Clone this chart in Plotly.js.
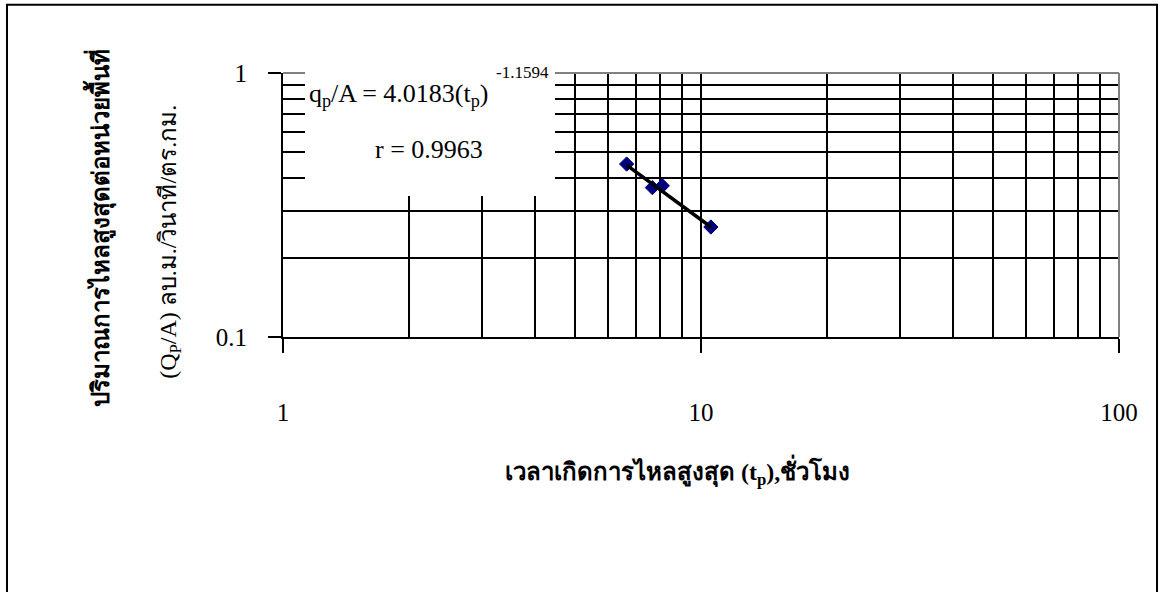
<!DOCTYPE html>
<html>
<head>
<meta charset="utf-8">
<script src="https://cdn.plot.ly/plotly-3.0.1.min.js"></script>
<style>
  html, body { margin: 0; padding: 0; background: #fff; }
  #chart { width: 1159px; height: 592px; }
</style>
</head>
<body>
<div id="chart"></div>
<script>
const tpHours = [6.64, 7.65, 8.08, 10.56];
const qpPerArea = [0.452, 0.368, 0.374, 0.261];

// Power-law trend line end points (straight on log-log axes)
const trendX = [6.64, 10.56];
const trendY = [0.448, 0.261];

// Axis ticks / grid
const xMajor = [1, 10, 100];
const xMinor = [2, 3, 4, 5, 6, 7, 8, 9, 20, 30, 40, 50, 60, 70, 80, 90];
const yMajor = [0.1, 1];
const yMinor = [0.2, 0.3, 0.4, 0.5, 0.6, 0.7, 0.8, 0.9];

const eqText = "q<sub>p</sub>/A = 4.0183(t<sub>p</sub>)";
const eqExponent = "-1.1594";
const rText = "r = 0.9963";
const xTitle = "<b>เวลาเกิดการไหลสูงสุด (t<sub>p</sub>),ชั่วโมง</b>";
const yTitle1 = "<b>ปริมาณการไหลสูงสุดต่อหน่วยพื้นที่</b>";
const yTitle2 = "(Q<sub>P</sub>/A) ลบ.ม./วินาที/ตร.กม.";

// plot area in pixels
const PL = 283, PR = 1119, PT = 72.5, PB = 337.5;
const px = x => (x - PL) / (PR - PL);
const py = y => (PB - y) / (PB - PT);

const SERIF = "Liberation Serif, Times New Roman, serif";

const traces = [
  {
    type: "scatter", mode: "markers", x: tpHours, y: qpPerArea,
    marker: { symbol: "diamond", size: 11, color: "#000080", line: { color: "#000080", width: 1 } },
    hoverinfo: "x+y",
  },
  {
    type: "scatter", mode: "lines", x: trendX, y: trendY,
    line: { color: "#000000", width: 3.5 },
    hoverinfo: "skip",
  },
];

const axisBase = {
  type: "log",
  showline: true, linecolor: "#000", linewidth: 2,
  ticks: "outside", tickcolor: "#000", tickwidth: 2,
  showgrid: true, gridcolor: "#000", gridwidth: 2,
  zeroline: false,
  tickfont: { family: SERIF, size: 25, color: "#000" },
  tickmode: "array",
};

const layout = {
  width: 1159, height: 592,
  margin: { l: PL, r: 1159 - PR, t: PT, b: 592 - PB },
  paper_bgcolor: "#fff", plot_bgcolor: "#fff",
  showlegend: false,
  xaxis: {
    ...axisBase,
    range: [0, 2],
    tickvals: xMajor, ticktext: xMajor.map(String),
    ticklen: 14, ticklabelstandoff: 38,
    minor: { tickmode: "array", tickvals: xMinor, showgrid: true, gridcolor: "#000", gridwidth: 2, ticks: "" },
  },
  yaxis: {
    ...axisBase,
    range: [-1, 0],
    tickvals: yMajor, ticktext: yMajor.map(String),
    ticklen: 13, ticklabelstandoff: 16,
    minor: { tickmode: "array", tickvals: yMinor, showgrid: true, gridcolor: "#000", gridwidth: 2, ticks: "" },
  },
  shapes: [
    // grey top and right plot border
    { type: "line", xref: "paper", yref: "paper", x0: 0, x1: 1, y0: 1, y1: 1, line: { color: "#808080", width: 2 } },
    { type: "line", xref: "paper", yref: "paper", x0: 1, x1: 1, y0: 0, y1: 1, line: { color: "#808080", width: 2 } },
    // white equation box
    { type: "rect", xref: "paper", yref: "paper", x0: px(305), x1: px(555), y0: py(196), y1: py(70),
      fillcolor: "#fff", line: { width: 0 }, layer: "above" },
    // outer chart frame
    { type: "rect", xref: "paper", yref: "paper", x0: px(7), x1: px(1157), y0: py(610), y1: py(4),
      line: { color: "#000", width: 2 }, fillcolor: "rgba(0,0,0,0)" },
  ],
  annotations: [
    { xref: "paper", yref: "paper", x: px(307), y: py(95), xanchor: "left", yanchor: "middle",
      text: eqText, showarrow: false, font: { family: SERIF, size: 26, color: "#000" } },
    { xref: "paper", yref: "paper", x: px(494), y: py(72), xanchor: "left", yanchor: "middle",
      text: eqExponent, showarrow: false, font: { family: SERIF, size: 17, color: "#000" } },
    { xref: "paper", yref: "paper", x: px(429), y: py(149), xanchor: "center", yanchor: "middle",
      text: rText, showarrow: false, font: { family: SERIF, size: 26, color: "#000" } },
    { xref: "paper", yref: "paper", x: px(677), y: py(473), xanchor: "center", yanchor: "middle",
      text: xTitle, showarrow: false, font: { family: SERIF, size: 24, color: "#000" } },
    { xref: "paper", yref: "paper", x: px(100), y: py(228), xanchor: "center", yanchor: "middle",
      text: yTitle1, textangle: -90, showarrow: false, font: { family: SERIF, size: 24, color: "#000" } },
    { xref: "paper", yref: "paper", x: px(170), y: py(242), xanchor: "center", yanchor: "middle",
      text: yTitle2, textangle: -90, showarrow: false, font: { family: SERIF, size: 24, color: "#000" } },
  ],
};

Plotly.newPlot("chart", traces, layout, { displayModeBar: false, staticPlot: true });
</script>
</body>
</html>
